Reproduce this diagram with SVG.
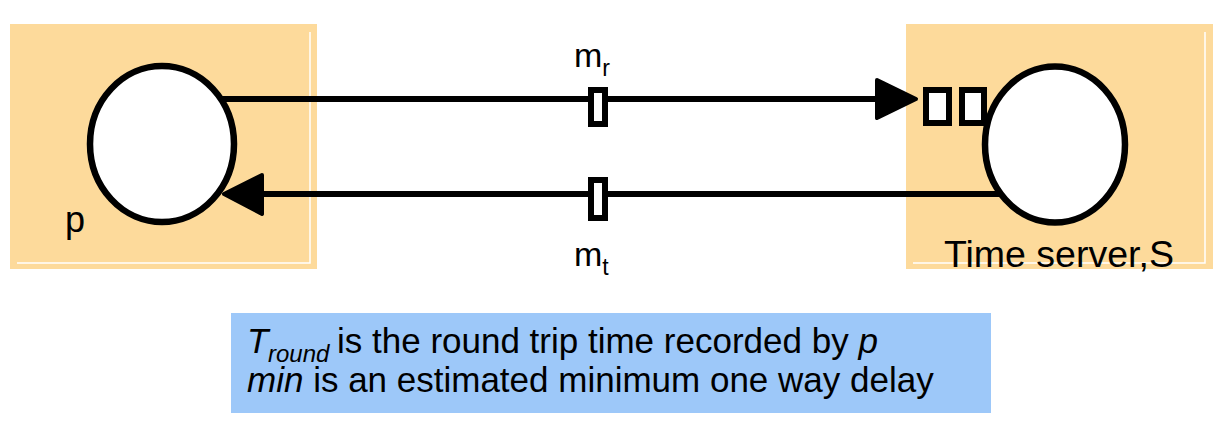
<svg xmlns="http://www.w3.org/2000/svg" width="1225" height="428" viewBox="0 0 1225 428">
  <style>
    .box { fill: #FDDA9B; }
    .edge { fill: none; stroke: #FFFFFF; stroke-width: 1.5; }
    .proc { fill: #FFFFFF; stroke: #000000; stroke-width: 6.5; }
    .line { fill: none; stroke: #000000; stroke-width: 6; }
    .head { fill: #000000; stroke: #000000; stroke-width: 4; stroke-linejoin: round; }
    .msg { fill: #FFFFFF; stroke: #000000; stroke-width: 6; }
    .t { font-family: "Liberation Sans", Arial, Helvetica, sans-serif; fill: #000000; }
    .note { fill: #9DC8F9; }
  </style>

  <g id="node-p">
    <rect class="box" x="10" y="24" width="307" height="245"/>
    <polyline class="edge" points="310,32 310,263 17,263"/>
    <ellipse class="proc" cx="162" cy="144" rx="72" ry="78"/>
    <text class="t" x="65" y="232" font-size="36">p</text>
  </g>

  <g id="node-server">
    <rect class="box" x="906" y="24" width="307" height="245"/>
    <polyline class="edge" points="1205,32 1205,263 913,263"/>
    <ellipse class="proc" cx="1055" cy="144.5" rx="70" ry="78"/>
    <rect class="msg" x="926" y="90" width="23" height="33"/>
    <rect class="msg" x="962" y="90" width="22" height="33"/>
    <text class="t" x="944" y="267" font-size="37.5">Time server,S</text>
  </g>

  <g id="connectors">
    <line class="line" x1="221" y1="99" x2="880" y2="99"/>
    <polygon class="head" points="877,80 916,99 877,118"/>
    <rect class="msg" x="591" y="90" width="14" height="34"/>
    <text class="t" x="574" y="67" font-size="34">m<tspan font-size="23" dy="9">r</tspan></text>

    <line class="line" x1="1000" y1="194" x2="258" y2="194"/>
    <polygon class="head" points="262,175 224,194 262,214"/>
    <rect class="msg" x="591" y="180" width="14" height="38"/>
    <text class="t" x="574" y="266" font-size="34">m<tspan font-size="23" dy="9">t</tspan></text>
  </g>

  <g id="note">
    <rect class="note" x="231" y="313" width="760" height="100"/>
    <text class="t" x="247" y="353" font-size="35" font-style="italic">T</text>
    <text class="t" x="268" y="362" font-size="24" font-style="italic">round</text>
    <text class="t" x="337" y="353" font-size="35">is the round trip time recorded by <tspan font-style="italic">p</tspan></text>
    <text class="t" x="247" y="392" font-size="35"><tspan font-style="italic">min</tspan> is an estimated minimum one way delay</text>
  </g>
</svg>
